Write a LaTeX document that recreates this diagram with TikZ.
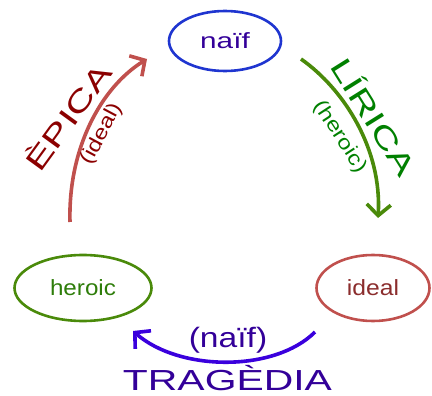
\documentclass[tikz,border=0pt]{standalone}
\usepackage{fontspec}
\setmainfont{Liberation Sans}
\usepackage{graphicx}
\usetikzlibrary{shapes.geometric,arrows.meta}
\definecolor{cblue}{HTML}{1F35D0}
\definecolor{cindigo}{HTML}{330099}
\definecolor{cviolet}{HTML}{3A00DD}
\definecolor{cgreenline}{HTML}{4A8A0A}
\definecolor{cgreentext}{HTML}{2E7D0A}
\definecolor{cgreen}{HTML}{008000}
\definecolor{credline}{HTML}{C0504D}
\definecolor{credtext}{HTML}{8B2D2D}
\definecolor{cdarkred}{HTML}{8B0000}
\newcommand\hs[2]{\scalebox{#1}[1]{#2}}
\newcommand\fsz[1]{\fontsize{#1}{#1}\selectfont}
\tikzset{
  oval/.style={ellipse, draw, line width=2.6pt, inner sep=0pt},
  arc/.style={line width=3.6pt, -{Straight Barb[length=11pt,width=24pt]}},
  lbl/.style={inner sep=0pt},
}
\begin{document}
\begin{tikzpicture}[x=1pt,y=-1pt]
\useasboundingbox (0,0) rectangle (432,396);
% nodes
\node[oval, draw=cblue, text=cindigo, minimum width=112pt, minimum height=60pt, font=\fsz{22}] (naif) at (225,41) {\hs{1.35}{naïf}};
\node[oval, draw=cgreenline, text=cgreentext, minimum width=137pt, minimum height=66pt, font=\fsz{22}] (heroic) at (83,288) {\hs{1.1}{heroic}};
\node[oval, draw=credline, text=credtext, minimum width=113pt, minimum height=66pt, font=\fsz{22}] (ideal) at (373,288) {\hs{1.12}{ideal}};
% arc end points
\coordinate (e1) at (70,222);
\coordinate (e2) at (147,59);
\coordinate (l1) at (301,59);
\coordinate (l2) at (378,218);
\coordinate (t1) at (315,332);
\coordinate (t2) at (133,331);
% arcs
\draw[arc, draw=credline] (e1) .. controls (68,150) and (100,88) .. (e2);
\draw[arc, draw=cgreenline] (l1) .. controls (345,90) and (382,150) .. (l2);
\draw[arc, draw=cviolet] (t1) .. controls (275,372) and (180,372) .. (t2);
% labels
\node[lbl, text=cdarkred, font=\fsz{29}, rotate=54] (epica) at (67,116) {\hs{1.42}{ÈPICA}};
\node[lbl, text=cdarkred, font=\fsz{20}, rotate=62] (epical) at (102,134) {\hs{1.2}{(ideal)}};
\node[lbl, text=cgreen, font=\fsz{29}, rotate=-58] (lirica) at (375,116) {\hs{1.42}{LÍRICA}};
\node[lbl, text=cgreen, font=\fsz{20}, rotate=-57] (liricl) at (340,137) {\hs{1.2}{(heroic)}};
\node[lbl, text=cindigo, font=\fsz{28}] (tragl) at (228,340) {\hs{1.2}{(naïf)}};
\node[lbl, text=cindigo, font=\fsz{29}, anchor=base] (trag) at (227.5,390) {\hs{1.41}{TRAGÈDIA}};
\end{tikzpicture}
\end{document}
